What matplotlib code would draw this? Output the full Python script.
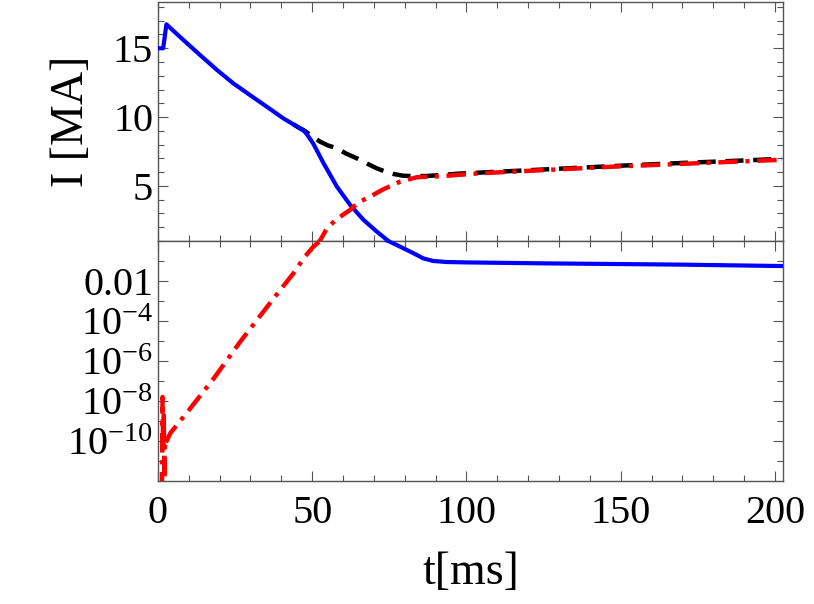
import numpy as np
import matplotlib
matplotlib.use("Agg")
import matplotlib.pyplot as plt
from matplotlib.ticker import FixedLocator, FixedFormatter, MultipleLocator, NullFormatter

plt.rcParams['font.family'] = ['Liberation Serif', 'DejaVu Serif']
plt.rcParams['mathtext.fontset'] = 'custom'
plt.rcParams['mathtext.rm'] = 'Liberation Serif'
plt.rcParams['mathtext.it'] = 'Liberation Serif:italic'
plt.rcParams['lines.scale_dashes'] = False

# runaway (blue), total (black dashed), ohmic (red dash-dot) -- current in MA, t in ms
t_blue = [0, 1.7, 2.75, 5, 8.35, 13.75, 19.2, 24.5, 29.9, 35.3, 40.7, 44, 46.1,
          47.3, 48.3, 50.4, 53.7, 58, 62.3, 66.6, 70.9, 74.7, 78.5, 82.8, 86, 89.3,
          93.6, 100, 126, 169, 202]
i_blue = [15.0, 15.0, 16.74, 16.27, 15.58, 14.49, 13.41, 12.44, 11.59, 10.75,
          9.9, 9.46, 9.18, 9.0, 8.75, 8.05, 6.64, 4.95, 3.62, 2.54, 1.69, 1.0, 0.52,
          0.245, 0.135, 0.1, 0.089, 0.085, 0.076, 0.066, 0.056]

t_black = [44, 46.1, 47.2, 50, 52.6, 55, 58, 61, 64.5, 68, 70.9, 74, 76.3, 79.5,
           83, 87, 92, 98, 110, 130, 150, 170, 190, 202]
i_black = [9.46, 9.18, 9.06, 8.6, 8.21, 7.95, 7.73, 7.35, 7.0, 6.6, 6.28, 6.02,
           5.87, 5.74, 5.71, 5.72, 5.8, 5.9, 6.03, 6.25, 6.47, 6.67, 6.85, 6.97]

t_red = [1.3, 1.5, 1.7, 1.9, 2.1, 2.3, 2.43, 4.05, 10.5, 18.1, 26.7, 34.2, 39.6,
         44, 47.2, 50, 52.6, 54.8, 58, 62.3, 65, 68.8, 73.1, 78.5, 83.9, 92.5,
         104.4, 125, 147.5, 175, 202]
i_red = [3e-13, 1.6e-8, 3e-11, 3e-9, 6e-13, 1e-10, 7.6e-11, 2.5e-10, 4.3e-9,
         1.35e-7, 9.3e-6, 2.95e-4, 3.5e-3, 0.025, 0.135, 0.45, 1.05, 1.93, 2.6,
         3.26, 3.8, 4.23, 4.76, 5.31, 5.63, 5.72, 5.92, 6.15, 6.4, 6.65, 6.9]

log_ticks = [1e-10, 1e-8, 1e-6, 1e-4, 1e-2]
log_labels = [r'$10^{-10}$', r'$10^{-8}$', r'$10^{-6}$', r'$10^{-4}$', '0.01']
log_minor = [1e-11, 1e-9, 1e-7, 1e-5, 1e-3, 1e-1]

fig = plt.figure(figsize=(8.14, 6.04), dpi=100)
left, right = 0.194, 0.962
ax_top = fig.add_axes([left, 0.601, right - left, 0.996 - 0.601])
ax_bot = fig.add_axes([left, 0.2036, right - left, 0.601 - 0.2036], sharex=ax_top)

frame = '#555555'
for ax in (ax_top, ax_bot):
    ax.plot(t_black, i_black, color='black', lw=3.2, dashes=(13, 7), zorder=2)
    ax.plot(t_blue, i_blue, color='#0000ff', lw=3.0, zorder=3)
    ax.plot(t_red, i_red, color='#ff0000', lw=3.2, dashes=(14, 5.5, 3, 5.5), zorder=4)
    for sp in ax.spines.values():
        sp.set_color(frame)
        sp.set_linewidth(1.0)
    ax.tick_params(which='both', direction='in', top=True, right=True,
                   color=frame, width=0.8, labelsize=29, labelcolor='black')
    ax.tick_params(which='major', length=7)
    ax.tick_params(which='minor', length=4)
    ax.xaxis.set_major_locator(MultipleLocator(50))
    ax.xaxis.set_minor_locator(MultipleLocator(10))

ax_top.set_xlim(0, 202.6)
ax_top.set_ylim(1, 18.33)
ax_top.yaxis.set_major_locator(FixedLocator([5, 10, 15]))
ax_top.yaxis.set_minor_locator(MultipleLocator(1))
ax_top.tick_params(labelbottom=False)
ax_top.set_ylabel('I [MA]', fontsize=33, labelpad=14)

ax_bot.set_yscale('log')
ax_bot.set_ylim(1e-12, 1)
ax_bot.yaxis.set_major_locator(FixedLocator(log_ticks))
ax_bot.yaxis.set_major_formatter(FixedFormatter(log_labels))
ax_bot.yaxis.set_minor_locator(FixedLocator(log_minor))
ax_bot.yaxis.set_minor_formatter(NullFormatter())
ax_bot.set_xlabel('t[ms]', fontsize=33, labelpad=14)
ax_bot.tick_params(axis='x', pad=10)

fig.savefig('out.png', dpi=100, facecolor='white')
